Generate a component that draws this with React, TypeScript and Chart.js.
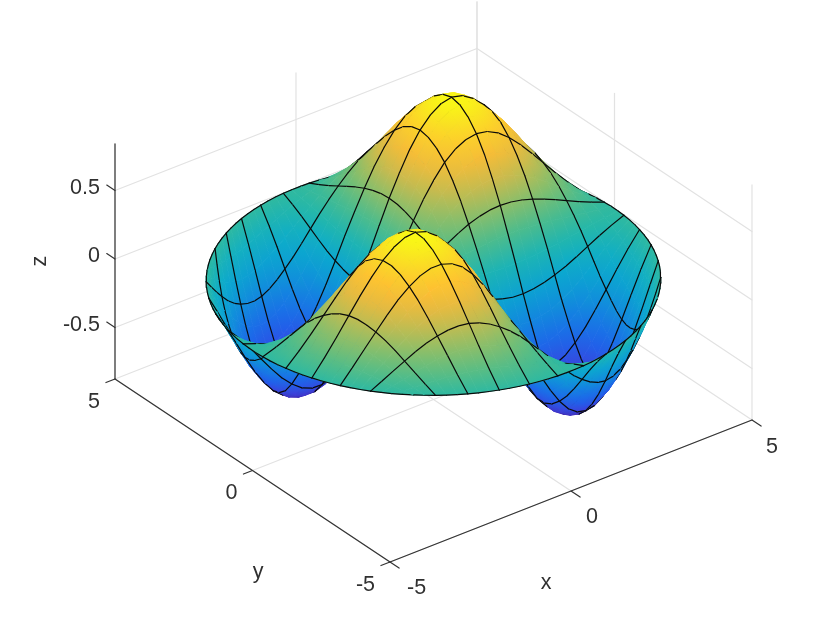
import React, { useEffect, useRef } from "react";
import { Chart, registerables } from "chart.js";

Chart.register(...registerables);

// ---- values ----
const radii = [0, 0.5, 1, 1.5, 2, 2.5, 3, 3.5, 4, 4.5, 5];
const thetaDeg = [0, 15, 30, 45, 60, 75, 90, 105, 120, 135, 150, 165]; // pattern repeats every half turn
const zRows = [
  [0, 0, 0, 0, 0, 0, 0, 0, 0, 0, 0, 0],
  [0, 0.028, 0.048, 0.056, 0.048, 0.028, 0, -0.029, -0.05, -0.059, -0.05, -0.029],
  [0, 0.104, 0.18, 0.208, 0.18, 0.104, 0, -0.109, -0.188, -0.217, -0.188, -0.109],
  [0, 0.209, 0.362, 0.418, 0.362, 0.209, 0, -0.218, -0.378, -0.437, -0.378, -0.218],
  [0, 0.314, 0.544, 0.628, 0.544, 0.314, 0, -0.328, -0.568, -0.656, -0.568, -0.328],
  [0, 0.392, 0.678, 0.783, 0.678, 0.392, 0, -0.41, -0.715, -0.82, -0.715, -0.41],
  [0, 0.419, 0.726, 0.838, 0.726, 0.419, 0, -0.445, -0.78, -0.876, -0.78, -0.445],
  [0, 0.384, 0.665, 0.768, 0.665, 0.384, 0, -0.42, -0.73, -0.835, -0.73, -0.42],
  [0, 0.29, 0.503, 0.581, 0.503, 0.29, 0, -0.32, -0.57, -0.65, -0.57, -0.32],
  [0, 0.156, 0.269, 0.311, 0.269, 0.156, 0, -0.17, -0.31, -0.36, -0.31, -0.17],
  [0, 0, 0, 0, 0, 0, 0, 0, 0, 0, 0, 0],
];
const xTicks = [-5, 0, 5];
const yTicks = [-5, 0, 5];
const zTicks = [-0.5, 0, 0.5];
const zMin = -0.876;
const zMax = 0.84;
const colorMin = -0.876;
const colorMax = 0.84;
const meshCells = 11;
const cellSub = 3;

const colorStops: [number, number, number, number][] = [
  [0.0, 62, 38, 168],
  [0.06, 65, 60, 215],
  [0.13, 35, 90, 235],
  [0.22, 22, 120, 230],
  [0.3, 15, 150, 215],
  [0.4, 10, 172, 205],
  [0.5, 40, 184, 165],
  [0.6, 100, 190, 125],
  [0.7, 170, 190, 90],
  [0.77, 220, 185, 70],
  [0.85, 255, 190, 50],
  [0.92, 250, 215, 40],
  [1.0, 249, 251, 20],
];

// ---- 3D view ----
function project(x: number, y: number, z: number) {
  return {
    x: 433.5 + 36.2 * x - 27.5 * y,
    y: 279.5 - 14.2 * x - 18.3 * y - 137 * z,
  };
}
const depthOf = (x: number, y: number, z: number) => 0.53 * x + 0.687 * y - 1.735 * z;

function cr(a: number, b: number, c: number, d: number, t: number) {
  return 0.5 * (2 * b + (c - a) * t + (2 * a - 5 * b + 4 * c - d) * t * t + (3 * b - a - 3 * c + d) * t * t * t);
}
const mod12 = (i: number) => ((i % 12) + 12) % 12;

function rowAt(ri: number, ti: number) {
  if (ri < 0) return 2 * zRows[0][mod12(ti)] - zRows[1][mod12(ti)];
  if (ri >= zRows.length) return 2 * zRows[zRows.length - 1][mod12(ti)] - zRows[zRows.length - 2][mod12(ti)];
  return zRows[ri][mod12(ti)];
}
function lookupZ(x: number, y: number) {
  const r = Math.min(Math.hypot(x, y), 5);
  let th = (Math.atan2(y, x) * 180) / Math.PI;
  if (th < 0) th += 360;
  th = th % 180;
  const step = thetaDeg[1] - thetaDeg[0];
  const tf = th / step;
  const ti = Math.floor(tf);
  const tt = tf - ti;
  const rStep = radii[1] - radii[0];
  const rf = r / rStep;
  const ri = Math.min(Math.floor(rf), radii.length - 2);
  const rt = rf - ri;
  const col = (k: number) =>
    cr(rowAt(ri - 1, k), rowAt(ri, k), rowAt(ri + 1, k), rowAt(ri + 2, k), rt);
  return cr(col(ti - 1), col(ti), col(ti + 1), col(ti + 2), tt);
}

// square mesh coordinates -> disc of radius 5
function rawMap(u: number, v: number) {
  const k = Math.PI / 4;
  const w = (q: number) => 0.95 * q + 0.05 * q * q * q * q * q;
  return [w(u) * (1 - v * v) + v * v * Math.sin(k * u), w(v) * (1 - u * u) + u * u * Math.sin(k * v)];
}
function discMap(u: number, v: number) {
  const m = Math.max(Math.abs(u), Math.abs(v));
  const [a, b] = rawMap(u, v);
  if (m === 0) return [0, 0];
  const [ea, eb] = rawMap(u / m, v / m);
  const s = 1 + (1 / Math.hypot(ea, eb) - 1) * m * m * m * m;
  return [5 * a * s, 5 * b * s];
}

function colorAt(z: number) {
  const t = Math.max(0, Math.min(1, (z - colorMin) / (colorMax - colorMin)));
  let i = 0;
  while (i < colorStops.length - 2 && t > colorStops[i + 1][0]) i++;
  const a = colorStops[i];
  const b = colorStops[i + 1];
  const f = (t - a[0]) / (b[0] - a[0]);
  const c = [1, 2, 3].map((k) => Math.round(a[k] + (b[k] - a[k]) * f));
  return `rgb(${c[0]},${c[1]},${c[2]})`;
}

const GRID = "#e2e2e2";
const AXIS = "#333333";
const TEXT = "#303030";

function line(points: { x: number; y: number }[], color: any, width: number, extra: any = {}) {
  return {
    data: points,
    borderColor: color,
    borderWidth: width,
    pointRadius: 0,
    pointHoverRadius: 0,
    fill: false,
    tension: 0,
    borderCapStyle: "round",
    ...extra,
  };
}

function buildSurface(ctx: CanvasRenderingContext2D) {
  const n = meshCells * cellSub;
  const nodes: { x: number; y: number; z: number; p: { x: number; y: number } }[][] = [];
  for (let i = 0; i <= n; i++) {
    nodes.push([]);
    for (let j = 0; j <= n; j++) {
      const [x, y] = discMap(-1 + (2 * i) / n, -1 + (2 * j) / n);
      const z = lookupZ(x, y);
      nodes[i].push({ x, y, z, p: project(x, y, z) });
    }
  }
  const patches: { i: number; j: number; d: number; edges: any[] }[] = [];
  const byIndex: any[][] = [];
  for (let i = 0; i < n; i++) {
    byIndex.push([]);
    for (let j = 0; j < n; j++) {
      const c = [nodes[i][j], nodes[i + 1][j], nodes[i + 1][j + 1], nodes[i][j + 1]];
      const d = c.reduce((s, q) => s + depthOf(q.x, q.y, q.z), 0) / 4;
      const patch = { i, j, d, edges: [] as any[] };
      patches.push(patch);
      byIndex[i].push(patch);
    }
  }
  const attach = (a: any, b: any, s: any, e: any) => {
    const target = !a ? b : !b ? a : a.d < b.d ? a : b;
    target.edges.push(line([s.p, e.p], "#0a0a0a", 1.2));
  };
  for (let i = 0; i <= n; i += cellSub) {
    for (let j = 0; j < n; j++) {
      attach(i > 0 ? byIndex[i - 1][j] : null, i < n ? byIndex[i][j] : null, nodes[i][j], nodes[i][j + 1]);
      attach(i > 0 ? byIndex[j][i - 1] : null, i < n ? byIndex[j][i] : null, nodes[j][i], nodes[j + 1][i]);
    }
  }
  patches.sort((a, b) => b.d - a.d);
  const out: any[] = [];
  for (const pt of patches) {
    const { i, j } = pt;
    const c = [nodes[i][j], nodes[i + 1][j], nodes[i + 1][j + 1], nodes[i][j + 1]];
    const zs = c.map((q) => q.z);
    const lo = Math.min(...zs);
    const hi = Math.max(...zs);
    const A = c[0];
    const B = c[1];
    const C = c[3];
    const det = (B.p.x - A.p.x) * (C.p.y - A.p.y) - (B.p.y - A.p.y) * (C.p.x - A.p.x);
    let paint: any = colorAt((lo + hi) / 2);
    if (Math.abs(det) > 0.3 && hi - lo > 1e-4) {
      const gx = ((B.z - A.z) * (C.p.y - A.p.y) - (C.z - A.z) * (B.p.y - A.p.y)) / det;
      const gy = ((C.z - A.z) * (B.p.x - A.p.x) - (B.z - A.z) * (C.p.x - A.p.x)) / det;
      const g2 = gx * gx + gy * gy;
      if (g2 > 1e-9) {
        const x0 = A.p.x + (gx * (lo - A.z)) / g2;
        const y0 = A.p.y + (gy * (lo - A.z)) / g2;
        const x1 = A.p.x + (gx * (hi - A.z)) / g2;
        const y1 = A.p.y + (gy * (hi - A.z)) / g2;
        if ([x0, y0, x1, y1].every(Number.isFinite) && Math.hypot(x1 - x0, y1 - y0) < 60) {
          const g = ctx.createLinearGradient(x0, y0, x1, y1);
          g.addColorStop(0, colorAt(lo));
          g.addColorStop(1, colorAt(hi));
          paint = g;
        }
      }
    }
    out.push(
      line([c[0].p, c[1].p, c[2].p, c[3].p, c[0].p], paint, 0.8, {
        fill: "shape",
        backgroundColor: paint,
        borderJoinStyle: "round",
      })
    );
    out.push(...pt.edges);
  }
  return out;
}

function buildFrame() {
  const grid: any[] = [];
  const axes: any[] = [];
  const seg = (a: number[], b: number[]) => [project(a[0], a[1], a[2]), project(b[0], b[1], b[2])];
  // back walls
  for (const z of zTicks) {
    grid.push(line(seg([-5, 5, z], [5, 5, z]), GRID, 1.2));
    grid.push(line(seg([5, 5, z], [5, -5, z]), GRID, 1.2));
  }
  for (const x of xTicks) {
    grid.push(line(seg([x, 5, zMin], [x, 5, zMax]), GRID, 1.2));
    grid.push(line(seg([x, -5, zMin], [x, 5, zMin]), GRID, 1.2));
  }
  for (const y of yTicks) {
    grid.push(line(seg([5, y, zMin], [5, y, zMax]), GRID, 1.2));
    grid.push(line(seg([-5, y, zMin], [5, y, zMin]), GRID, 1.2));
  }
  // axes
  axes.push(line(seg([-5, -5, zMin], [5, -5, zMin]), AXIS, 1.2));
  axes.push(line(seg([-5, -5, zMin], [-5, 5, zMin]), AXIS, 1.2));
  axes.push(line(seg([-5, 5, zMin], [-5, 5, zMax]), AXIS, 1.2));
  const t = 0.33;
  for (const x of xTicks) axes.push(line(seg([x, -5, zMin], [x, -5 - t, zMin]), AXIS, 1.2));
  for (const y of yTicks) axes.push(line(seg([-5, y, zMin], [-5 - 0.25, y, zMin]), AXIS, 1.2));
  for (const z of zTicks) axes.push(line(seg([-5, 5, z], [-5, 5 + 0.3, z]), AXIS, 1.2));
  return [...grid, ...axes];
}

const tickText = (v: number) => String(v);

const textPlugin = {
  id: "labels3d",
  afterDatasetsDraw(chart: any) {
    const { ctx, scales } = chart;
    const put = (s: string, x: number, y: number, align: CanvasTextAlign, rot = 0) => {
      ctx.save();
      ctx.translate(scales.x.getPixelForValue(x), scales.y.getPixelForValue(y));
      ctx.rotate(rot);
      ctx.font = '21.5px "Liberation Sans", Arial, sans-serif';
      ctx.fillStyle = TEXT;
      ctx.textAlign = align;
      ctx.textBaseline = "middle";
      ctx.fillText(s, 0, 0);
      ctx.restore();
    };
    for (const z of zTicks) {
      const p = project(-5, 5, z);
      put(tickText(z), p.x - 15, p.y - 2.5, "right");
    }
    for (const y of yTicks) {
      const p = project(-5, y, zMin);
      put(tickText(y), p.x - 15, p.y + 23, "right");
    }
    for (const x of xTicks) {
      const p = project(x, -5, zMin);
      const dx = x === -5 ? 17 : x === 0 ? 15 : 14;
      const dy = x === 5 ? 27 : 26;
      put(tickText(x), p.x + dx, p.y + dy, "left");
    }
    put("x", 546, 583, "center");
    put("y", 258, 572, "center");
    put("z", 40, 261, "center", -Math.PI / 2);
  },
};

export default function App() {
  const ref = useRef<HTMLCanvasElement | null>(null);
  useEffect(() => {
    document.body.style.margin = "0";
    const canvas = ref.current!;
    const ctx = canvas.getContext("2d")!;
    const layers = [...buildFrame(), ...buildSurface(ctx)];
    // the library paints the first dataset last, so nearest layers go first
    const datasets = layers.reverse();
    const chart = new Chart(canvas, {
      type: "line",
      data: { datasets },
      options: {
        responsive: false,
        animation: false,
        events: [],
        layout: { padding: 0 },
        plugins: { legend: { display: false }, tooltip: { enabled: false } },
        scales: {
          x: { type: "linear", min: 0, max: 830, display: false },
          y: { type: "linear", min: 0, max: 626, reverse: true, display: false },
        },
      },
      plugins: [textPlugin],
    } as any);
    return () => chart.destroy();
  }, []);
  return (
    <div style={{ width: 830, height: 626, background: "#fff" }}>
      <canvas ref={ref} width={830} height={626} style={{ display: "block" }} />
    </div>
  );
}
